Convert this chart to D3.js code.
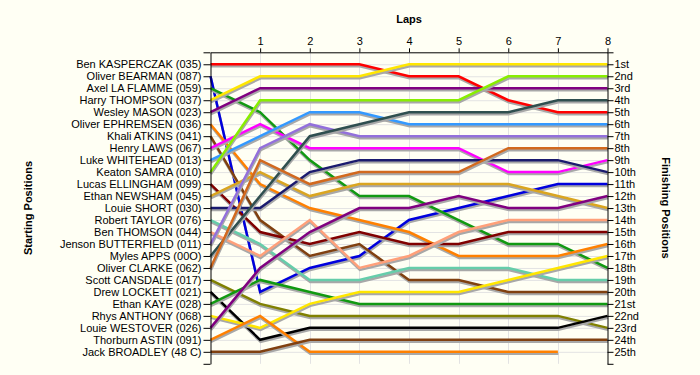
<!DOCTYPE html>
<html>
<head>
<meta charset="utf-8">
<script src="https://cdn.jsdelivr.net/npm/d3@7"></script>
<style>
body { margin: 0; background: #fffff4; }
text { font-family: "Liberation Sans", Arial, sans-serif; }
</style>
</head>
<body>
<svg id="chart" width="700" height="375"></svg>
<script>
// drivers in starting order
var startNames = ["Ben KASPERCZAK (035)", "Oliver BEARMAN (087)", "Axel LA FLAMME (059)", "Harry THOMPSON (037)",
  "Wesley MASON (023)", "Oliver EPHREMSEN (036)", "Khali ATKINS (041)", "Henry LAWS (067)", "Luke WHITEHEAD (013)",
  "Keaton SAMRA (010)", "Lucas ELLINGHAM (099)", "Ethan NEWSHAM (045)", "Louie SHORT (030)", "Robert TAYLOR (076)",
  "Ben THOMSON (044)", "Jenson BUTTERFIELD (011)", "Myles APPS (00O)", "Oliver CLARKE (062)", "Scott CANSDALE (017)",
  "Drew LOCKETT (021)", "Ethan KAYE (028)", "Rhys ANTHONY (068)", "Louie WESTOVER (026)", "Thorburn ASTIN (091)",
  "Jack BROADLEY (48 C)"];

var lineColors = ["#ff0000", "#0000dd", "#119911", "#ffe600", "#800080", "#ff8000", "#804010", "#ff00ff", "#3399ff",
  "#88ee00", "#800000", "#daa520", "#1a1a6e", "#66cdaa", "#ffa07a", "#9370db", "#2f4f4f", "#d2691e", "#808000",
  "#000000", "#119911", "#ffe600", "#800080", "#ff8000", "#804010"];

var lapTicks = [1, 2, 3, 4, 5, 6, 7, 8];

var finishLabels = ["1st", "2nd", "3rd", "4th", "5th", "6th", "7th", "8th", "9th", "10th", "11th", "12th", "13th",
  "14th", "15th", "16th", "17th", "18th", "19th", "20th", "21st", "22nd", "23rd", "24th", "25th"];

// position of each driver at lap 0..8 (same order as startNames)
var positions = [
  [1, 1, 1, 1, 2, 2, 4, 5, 5],
  [2, 20, 18, 17, 14, 13, 12, 11, 11],
  [3, 5, 9, 12, 12, 14, 16, 16, 18],
  [4, 2, 2, 2, 1, 1, 1, 1, 1],
  [5, 3, 3, 3, 3, 3, 3, 3, 3],
  [6, 11, 13, 14, 15, 17, 17, 17, 16],
  [7, 14, 17, 16, 19, 19, 20, 20, 20],
  [8, 6, 8, 8, 8, 8, 10, 10, 9],
  [9, 7, 5, 5, 6, 6, 6, 6, 6],
  [10, 4, 4, 4, 4, 4, 2, 2, 2],
  [11, 15, 16, 15, 16, 16, 15, 15, 15],
  [12, 10, 12, 11, 11, 11, 11, 12, 13],
  [13, 13, 10, 9, 9, 9, 9, 9, 10],
  [14, 16, 19, 19, 18, 18, 18, 19, 19],
  [15, 17, 14, 18, 17, 15, 14, 14, 14],
  [16, 8, 6, 7, 7, 7, 7, 7, 7],
  [17, 12, 7, 6, 5, 5, 5, 4, 4],
  [18, 9, 11, 10, 10, 10, 8, 8, 8],
  [19, 21, 22, 22, 22, 22, 22, 22, 23],
  [20, 24, 23, 23, 23, 23, 23, 23, 22],
  [21, 19, 20, 21, 21, 21, 21, 21, 21],
  [22, 23, 21, 20, 20, 20, 19, 18, 17],
  [23, 18, 15, 13, 13, 12, 13, 13, 12],
  [24, 22, 25, 25, 25, 25, 25, 25],
  [25, 25, 24, 24, 24, 24, 24, 24, 24]
];

var svg = d3.select("#chart");

var x = d3.scaleLinear().domain([0, 8]).range([210.5, 607.5]);
var y = d3.scaleLinear().domain([0, 26]).range([52.3, 363.8]);

// grid
svg.append("g").selectAll("line").data(d3.range(1, 26)).enter().append("line")
  .attr("x1", x(0)).attr("x2", x(8))
  .attr("y1", function(d) { return y(d) + 0.5; }).attr("y2", function(d) { return y(d) + 0.5; })
  .attr("stroke", "#e3e3e3");
svg.append("g").selectAll("line").data(lapTicks.slice(0, 7)).enter().append("line")
  .attr("x1", function(d) { return Math.round(x(d)) + 0.5; }).attr("x2", function(d) { return Math.round(x(d)) + 0.5; })
  .attr("y1", y(0)).attr("y2", y(26))
  .attr("stroke", "#e3e3e3");

// lap lines, shadow first then colour
var line = d3.line()
  .x(function(d, i) { return x(i); })
  .y(function(d) { return y(d); });

var g = svg.append("g");
positions.forEach(function(p, i) {
  g.append("path").attr("d", line(p))
    .attr("fill", "none").attr("stroke", "#a8a8a8").attr("stroke-width", 2.5)
    .attr("transform", "translate(0.5,2)");
  g.append("path").attr("d", line(p))
    .attr("fill", "none").attr("stroke", lineColors[i]).attr("stroke-width", 2.5);
});

// axes
var allTicks = d3.range(0, 27);

var leftAxis = svg.append("g")
  .attr("transform", "translate(" + x(0) + ",0)")
  .call(d3.axisLeft(y).tickValues(allTicks).tickSize(7).tickPadding(2).tickSizeOuter(0)
    .tickFormat(function(d) { return (d >= 1 && d <= 25) ? startNames[d - 1] : ""; }));

var rightAxis = svg.append("g")
  .attr("transform", "translate(" + x(8) + ",0)")
  .call(d3.axisRight(y).tickValues(allTicks).tickSize(6).tickPadding(1).tickSizeOuter(0)
    .tickFormat(function(d) { return (d >= 1 && d <= 25) ? finishLabels[d - 1] : ""; }));

var topAxis = svg.append("g")
  .attr("transform", "translate(0," + y(0) + ")")
  .call(d3.axisTop(x).tickValues(lapTicks).tickSize(4).tickPadding(3).tickSizeOuter(0));

[leftAxis, rightAxis, topAxis].forEach(function(a) {
  a.selectAll("text").attr("font-size", 11).attr("fill", "#000").style("font-family", "'Liberation Sans', Arial, sans-serif");
  a.selectAll("line, path").attr("stroke", "#000");
});

// titles
svg.append("text").attr("x", 409).attr("y", 23).attr("text-anchor", "middle")
  .attr("font-size", 11).attr("font-weight", "bold").text("Laps");
svg.append("text").attr("transform", "translate(32,208) rotate(-90)").attr("text-anchor", "middle")
  .attr("font-size", 11).attr("font-weight", "bold").text("Starting Positions");
svg.append("text").attr("transform", "translate(662,208) rotate(90)").attr("text-anchor", "middle")
  .attr("font-size", 11).attr("font-weight", "bold").text("Finishing Positions");
</script>
</body>
</html>
